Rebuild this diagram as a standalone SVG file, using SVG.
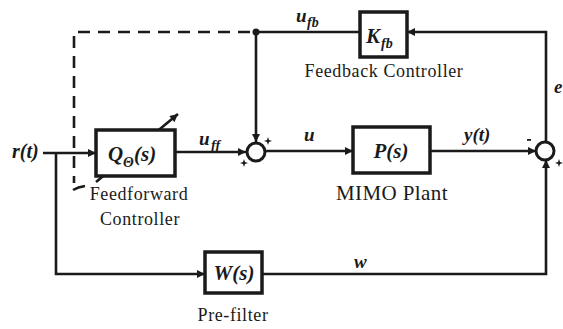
<svg xmlns="http://www.w3.org/2000/svg" width="563" height="329" viewBox="0 0 563 329">
<defs>
<marker id="arr" viewBox="0 0 10 10" refX="10" refY="5" markerWidth="9" markerHeight="8" markerUnits="userSpaceOnUse" orient="auto">
<path d="M0,0 L10,5 L0,10 z" fill="#1a1a1a"/>
</marker>
<style>
.ln{fill:none;stroke:#1a1a1a;stroke-width:2.6}
.dash{fill:none;stroke:#1a1a1a;stroke-width:2.6;stroke-dasharray:12 8}
.box{fill:#fff;stroke:#1a1a1a;stroke-width:3.5}
.sum{fill:#fff;stroke:#1a1a1a;stroke-width:3}
.sg{fill:#1a1a1a}
</style>
</defs>
<rect width="563" height="329" fill="#fff"/>
<g id="connectors">
<path class="dash" d="M250,32 H74 V183"/>
<path class="ln" d="M73,190 Q78,187 85,186"/>
<path class="ln" d="M43,153 H96" marker-end="url(#arr)"/>
<path class="ln" d="M56,153 V274 H205" marker-end="url(#arr)"/>
<path class="ln" d="M175,152 H246" marker-end="url(#arr)"/>
<path class="ln" d="M360,32 H256 V142" marker-end="url(#arr)"/>
<path class="ln" d="M265,151 H353" marker-end="url(#arr)"/>
<path class="ln" d="M430,151 H536" marker-end="url(#arr)"/>
<path class="ln" d="M546,142 V32 H407" marker-end="url(#arr)"/>
<path class="ln" d="M262,274 H546 V160" marker-end="url(#arr)"/>
<circle cx="256" cy="32" r="3.5" fill="#1a1a1a"/>
</g>
<g id="adapt">
<path class="ln" d="M96,182 L178,114" marker-end="url(#arr)"/>
</g>
<g id="Q">
<rect class="box" x="96" y="130" width="79" height="46"/>
<text font-family="Liberation Serif" font-weight="bold" font-style="italic" fill="#1a1a1a" x="108" y="161" font-size="21">Q</text>
<text font-family="Liberation Serif" font-weight="bold" font-style="italic" fill="#1a1a1a" x="123" y="167" font-size="14">&#920;</text>
<text font-family="Liberation Serif" font-weight="bold" font-style="italic" fill="#1a1a1a" x="134" y="161" font-size="21">(s)</text>
<text font-family="Liberation Serif" font-size="18" fill="#1a1a1a" x="139" y="200" text-anchor="middle" letter-spacing="0.6">Feedforward</text>
<text font-family="Liberation Serif" font-size="18" fill="#1a1a1a" x="140" y="225" text-anchor="middle" letter-spacing="0.6">Controller</text>
</g>
<g id="sum1">
<circle class="sum" cx="256" cy="152" r="9"/>
<path class="sg" d="M268,137 L269,140 L272,141 L269,142 L268,145 L267,142 L264,141 L267,140 z"/>
<path class="sg" d="M244,159 L245,162 L248,163 L245,164 L244,167 L243,164 L240,163 L243,162 z"/>
</g>
<g id="K">
<rect class="box" x="360" y="12" width="47" height="45"/>
<text font-family="Liberation Serif" font-weight="bold" font-style="italic" fill="#1a1a1a" x="366" y="43" font-size="21">K</text>
<text font-family="Liberation Serif" font-weight="bold" font-style="italic" fill="#1a1a1a" x="381" y="48" font-size="14">fb</text>
<text font-family="Liberation Serif" font-size="18" fill="#1a1a1a" x="384" y="77" text-anchor="middle" letter-spacing="0.6">Feedback Controller</text>
</g>
<g id="P">
<rect class="box" x="353" y="127" width="77" height="46"/>
<text font-family="Liberation Serif" font-weight="bold" font-style="italic" fill="#1a1a1a" x="391" y="158" font-size="21" text-anchor="middle">P(s)</text>
<text font-family="Liberation Serif" font-size="21" fill="#1a1a1a" x="392" y="200" text-anchor="middle" letter-spacing="0.4">MIMO Plant</text>
</g>
<g id="sum2">
<circle class="sum" cx="545" cy="151" r="9"/>
<rect class="sg" x="527" y="139" width="4" height="1.8"/>
<path class="sg" d="M559,159 L560,162 L563,163 L560,164 L559,167 L558,164 L555,163 L558,162 z"/>
</g>
<g id="W">
<rect class="box" x="205" y="252" width="57" height="41"/>
<text font-family="Liberation Serif" font-weight="bold" font-style="italic" fill="#1a1a1a" x="234" y="280" font-size="21" text-anchor="middle">W(s)</text>
<text font-family="Liberation Serif" font-size="18" fill="#1a1a1a" x="233" y="321" text-anchor="middle" letter-spacing="0.6">Pre-filter</text>
</g>
<g id="labels">
<text font-family="Liberation Serif" font-weight="bold" font-style="italic" fill="#1a1a1a" x="12" y="158" font-size="20">r(t)</text>
<text font-family="Liberation Serif" font-weight="bold" font-style="italic" fill="#1a1a1a" x="199" y="145" font-size="19">u</text>
<text font-family="Liberation Serif" font-weight="bold" font-style="italic" fill="#1a1a1a" x="211" y="150" font-size="14">ff</text>
<text font-family="Liberation Serif" font-weight="bold" font-style="italic" fill="#1a1a1a" x="296" y="22" font-size="19">u</text>
<text font-family="Liberation Serif" font-weight="bold" font-style="italic" fill="#1a1a1a" x="307" y="27" font-size="14">fb</text>
<text font-family="Liberation Serif" font-weight="bold" font-style="italic" fill="#1a1a1a" x="304" y="141" font-size="19">u</text>
<text font-family="Liberation Serif" font-weight="bold" font-style="italic" fill="#1a1a1a" x="464" y="141" font-size="19">y(t)</text>
<text font-family="Liberation Serif" font-weight="bold" font-style="italic" fill="#1a1a1a" x="354" y="268" font-size="19">w</text>
<text font-family="Liberation Serif" font-weight="bold" font-style="italic" fill="#1a1a1a" x="554" y="93" font-size="19">e</text>
</g>
</svg>
